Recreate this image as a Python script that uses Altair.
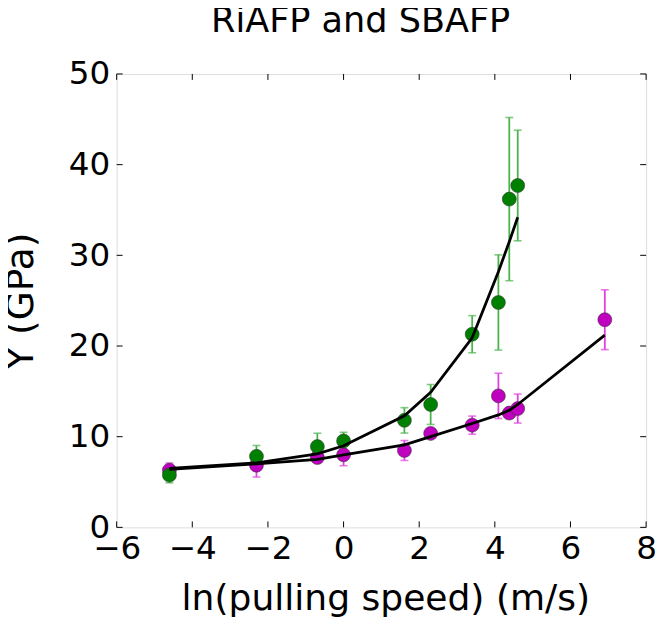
import altair as alt
import pandas as pd

# ---- data ----
title_text = ["RiAFP and SBAFP"]

green_x = [-4.605, -2.303, -0.693, 0.0, 1.609, 2.303, 3.401, 4.094, 4.382, 4.605]
green_y = [5.76, 7.83, 8.91, 9.53, 11.8, 13.55, 21.3, 24.8, 36.2, 37.7]
green_err = [0.85, 1.2, 1.47, 0.95, 1.4, 2.2, 2.05, 5.25, 9.0, 6.1]
green_fit = [6.5, 7.1, 8.1, 9.0, 12.3, 14.9, 20.9, 28.2, 31.5, 34.2]

mag_x = [-4.605, -2.303, -0.693, 0.0, 1.609, 2.303, 3.401, 4.094, 4.382, 4.605, 6.908]
mag_y = [6.3, 6.85, 7.7, 8.0, 8.48, 10.36, 11.27, 14.5, 12.6, 13.1, 22.9]
mag_err = [0.8, 1.3, 0.5, 1.2, 1.1, 0.5, 1.0, 2.5, 0.5, 1.6, 3.3]
mag_fit = [6.4, 7.0, 7.5, 8.0, 9.1, 10.0, 11.45, 12.4, 12.9, 13.55, 21.2]

x_ticks = [-6, -4, -2, 0, 2, 4, 6, 8]
y_ticks = [0, 10, 20, 30, 40, 50]

W, H = 536, 459
TICK = 6
FONT = "DejaVu Sans"

def frame(xs, ys, es, fit, series):
    return pd.DataFrame({
        "x": xs, "y": ys,
        "lo": [a - b for a, b in zip(ys, es)],
        "hi": [a + b for a, b in zip(ys, es)],
        "fit": fit, "series": series,
    })

g = frame(green_x, green_y, green_err, green_fit, "green")
m = frame(mag_x, mag_y, mag_err, mag_fit, "magenta")

xs = alt.Scale(domain=[-6, 8], nice=False, zero=False)
ys = alt.Scale(domain=[0, 50], nice=False, zero=False)

x_axis = alt.Axis(values=x_ticks, title="ln(pulling speed) (m/s)", grid=False, ticks=False,
                  domain=False, labelFontSize=33, titleFontSize=36.5, labelPadding=6,
                  titlePadding=15, titleX=W / 2 + 4, labelFont=FONT, titleFont=FONT,
                  labelColor="black", titleColor="black", titleFontWeight="normal",
                  labelFlush=False)
y_axis = alt.Axis(values=y_ticks, title="Y (GPa)", grid=False, ticks=False,
                  domain=False, labelFontSize=33, titleFontSize=38, labelPadding=7,
                  titlePadding=28, labelFont=FONT, titleFont=FONT, labelColor="black",
                  titleColor="black", titleFontWeight="normal", labelFlush=False)

def err_layers(df, color):
    base = alt.Chart(df)
    bar = base.mark_rule(color=color, strokeWidth=1.8).encode(
        x=alt.X("x:Q", scale=xs, axis=x_axis), y=alt.Y("lo:Q", scale=ys, axis=y_axis), y2="hi:Q")
    cap_lo = base.mark_tick(color=color, thickness=1.6, size=8, orient="horizontal").encode(
        x="x:Q", y="lo:Q")
    cap_hi = base.mark_tick(color=color, thickness=1.6, size=8, orient="horizontal").encode(
        x="x:Q", y="hi:Q")
    return [bar, cap_lo, cap_hi]

def pts(df, color):
    return alt.Chart(df).mark_point(filled=True, fill=color, size=200, opacity=1,
                                    stroke="#333333", strokeWidth=0.8, strokeOpacity=0.7).encode(
        x="x:Q", y="y:Q")

def fit_line(df):
    return alt.Chart(df).mark_line(color="black", strokeWidth=2.8).encode(
        x="x:Q", y="fit:Q")

# inward ticks on all four sides
xt = pd.DataFrame({"v": x_ticks})
yt = pd.DataFrame({"v": y_ticks})
tick_style = dict(color="black", strokeWidth=1)
xt_bottom = alt.Chart(xt).mark_rule(**tick_style).encode(
    x=alt.X("v:Q", scale=xs), y=alt.value(H), y2=alt.value(H - TICK))
xt_top = alt.Chart(xt).mark_rule(**tick_style).encode(
    x=alt.X("v:Q", scale=xs), y=alt.value(0), y2=alt.value(TICK))
yt_left = alt.Chart(yt).mark_rule(**tick_style).encode(
    y=alt.Y("v:Q", scale=ys), x=alt.value(0), x2=alt.value(TICK))
yt_right = alt.Chart(yt).mark_rule(**tick_style).encode(
    y=alt.Y("v:Q", scale=ys), x=alt.value(W), x2=alt.value(W - TICK))

title_mark = alt.Chart(pd.DataFrame({"t": title_text})).mark_text(
    font=FONT, fontSize=35.5, color="black", align="center", baseline="alphabetic"
).encode(text="t:N", x=alt.value(W / 2 - 21), y=alt.value(-42))

layers = (err_layers(m, "#e040e0") + err_layers(g, "#4cb34c")
          + [pts(m, "#bf00bf"), pts(g, "#008000"), fit_line(g), fit_line(m),
             xt_bottom, xt_top, yt_left, yt_right, title_mark])

chart = alt.layer(*layers).properties(
    width=W, height=H,
    autosize=alt.AutoSizeParams(type="none"),
    padding={"left": 110, "top": 63, "right": 9, "bottom": 90},
).configure_view(stroke="black", strokeWidth=1.2).configure(background="white")

chart.save("out.html", embed_options={"renderer": "svg", "actions": False})
